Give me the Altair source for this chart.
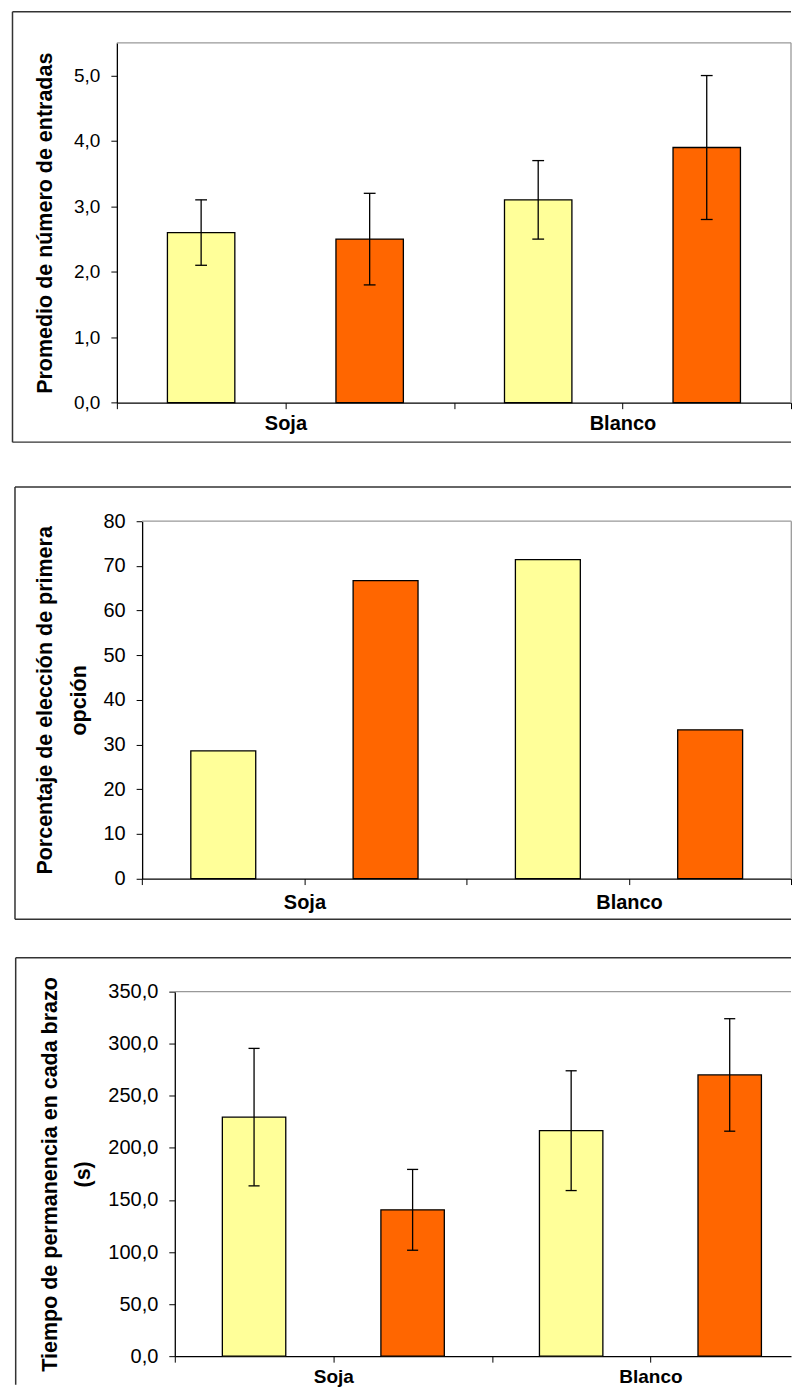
import altair as alt
import pandas as pd

# ---- data ----
groups = ["Soja", "Blanco"]
series = ["Serie 1", "Serie 2"]
colors = ["#FFFF99", "#FF6600"]

# order: Soja/Serie1, Soja/Serie2, Blanco/Serie1, Blanco/Serie2
entradas_mean = [2.6, 2.5, 3.1, 3.9]
entradas_err = [0.5, 0.7, 0.6, 1.1]

porcentaje = [28.6, 66.7, 71.4, 33.3]

tiempo_mean = [229.5, 140.5, 216.5, 270.0]
tiempo_err = [66.0, 38.8, 57.5, 54.0]

y1_ticks = [0, 1, 2, 3, 4, 5]
y2_ticks = [0, 10, 20, 30, 40, 50, 60, 70, 80]
y3_ticks = [0, 50, 100, 150, 200, 250, 300, 350]


def make_df(values, errs=None):
    rows = []
    k = 0
    for gi, g in enumerate(groups):
        for si, s in enumerate(series):
            rows.append({"group": g, "series": s, "g": gi, "s": si,
                         "value": values[k],
                         "err": (errs[k] if errs is not None else 0)})
            k += 1
    return pd.DataFrame(rows)


one = pd.DataFrame({"k": [0]})
LABEL_FONT = "Liberation Sans"
ORIGIN_X = 10.0          # absolute x of every panel's view origin
VIEW_W = 781.0           # view spans x 10 .. 791 (page must not overflow)

xlabel_expr = "datum.value == 1 ? '%s' : datum.value == 3 ? '%s' : ''" % (groups[0], groups[1])


def panel(df, ymax, yticks, yexpr, title, pw, h, plot_left, xmax, xticks,
          frame, inv_top, title_x, title_lh, ylab_size, xlab_size, xlab_pad,
          has_err, right_border=True):
    pl = plot_left - ORIGIN_X
    pr = pl + pw
    xscale = alt.Scale(domain=[0, xmax], range=[pl, pr], nice=False, zero=False)
    yscale = alt.Scale(domain=[0, ymax], nice=False, zero=True)
    xaxis = alt.Axis(values=xticks, labelExpr=xlabel_expr, title=None,
                     tickSize=6, tickColor="black", tickWidth=1,
                     domainColor="black", domainWidth=1.3,
                     labelPadding=xlab_pad, labelFont=LABEL_FONT,
                     labelFontSize=xlab_size, labelFontWeight="bold",
                     labelColor="black",
                     labelOverlap=False, labelFlush=False, grid=False)
    yaxis = alt.Axis(values=yticks, labelExpr=yexpr, title=title, offset=-pl,
                     tickSize=6, tickColor="black", tickWidth=1,
                     domainColor="black", domainWidth=1.3,
                     labelPadding=11, labelFont=LABEL_FONT,
                     labelFontSize=ylab_size, labelColor="black",
                     labelOverlap=False, labelFlush=False, grid=False,
                     titleFont=LABEL_FONT, titleFontSize=21.5,
                     titleFontWeight="bold", titleColor="black",
                     titleAngle=270, titleAlign="center", titleBaseline="middle",
                     titleX=title_x, titleY=h / 2, titleLineHeight=title_lh)

    base = alt.Chart(df).transform_calculate(
        pos="datum.g * 2 + datum.s + 0.5",
    ).transform_calculate(
        xl="datum.pos - 0.2", xr="datum.pos + 0.2",
        cl="datum.pos - 0.035", cr="datum.pos + 0.035",
        lo="datum.value - datum.err", hi="datum.value + datum.err",
    )

    fx, fy, fy2 = frame
    fx = fx - ORIGIN_X
    fstyle = dict(color="#333333", strokeWidth=1.5)
    gstyle = dict(color="#999999", strokeWidth=1.3)
    layers = [
        # invisible box fixing the panel's top extent
        alt.Chart(one).mark_rect(opacity=0).encode(
            x=alt.value(pl), y=alt.value(inv_top), x2=alt.value(pl + 1), y2=alt.value(0)),
        # outer chart frame (its right side lies beyond the page)
        alt.Chart(one).mark_rule(**fstyle).encode(
            x=alt.value(fx), x2=alt.value(VIEW_W), y=alt.value(fy)),
        alt.Chart(one).mark_rule(**fstyle).encode(
            x=alt.value(fx), y=alt.value(fy), y2=alt.value(fy2)),
        # plot area border (top / right)
        alt.Chart(one).mark_rule(**gstyle).encode(
            x=alt.value(pl), x2=alt.value(pr), y=alt.value(0)),
    ]
    if fy2 < h + 45 and right_border:
        layers.append(alt.Chart(one).mark_rule(**fstyle).encode(
            x=alt.value(fx), x2=alt.value(VIEW_W), y=alt.value(fy2)))
    if right_border:
        layers.append(alt.Chart(one).mark_rule(**gstyle).encode(
            x=alt.value(pr), y=alt.value(0), y2=alt.value(h)))

    bars = base.mark_rect(stroke="black", strokeWidth=1.3).encode(
        x=alt.X("xl:Q", scale=xscale, axis=xaxis),
        x2="xr:Q",
        y=alt.Y("value:Q", scale=yscale, axis=yaxis),
        y2=alt.datum(0),
        color=alt.Color("series:N", scale=alt.Scale(domain=series, range=colors),
                        legend=None),
    )
    layers.append(bars)
    if has_err:
        stem = base.mark_rule(color="black", strokeWidth=1.3).encode(
            x=alt.X("pos:Q", scale=xscale, axis=xaxis),
            y=alt.Y("lo:Q", scale=yscale, axis=yaxis), y2="hi:Q")
        cap_hi = base.mark_rule(color="black", strokeWidth=1.3).encode(
            x=alt.X("cl:Q", scale=xscale, axis=xaxis), x2="cr:Q",
            y=alt.Y("hi:Q", scale=yscale, axis=yaxis))
        cap_lo = base.mark_rule(color="black", strokeWidth=1.3).encode(
            x=alt.X("cl:Q", scale=xscale, axis=xaxis), x2="cr:Q",
            y=alt.Y("lo:Q", scale=yscale, axis=yaxis))
        layers += [stem, cap_hi, cap_lo]
    return alt.layer(*layers).properties(width=VIEW_W, height=h)


comma1 = "replace(format(datum.value, '.1f'), '.', ',')"
plain = "format(datum.value, 'd')"

p1 = panel(make_df(entradas_mean, entradas_err), 5.5, y1_ticks, comma1,
           "Promedio de número de entradas", 675.0, 360.3,
           plot_left=116.0, xmax=4, xticks=[0, 1, 2, 3, 4],
           frame=(11.5, -31.2, 399.8), inv_top=-32.7,
           title_x=-71.0, title_lh=27, ylab_size=19, xlab_size=20, xlab_pad=5,
           has_err=True)

p2 = panel(make_df(porcentaje), 80, y2_ticks, plain,
           ["Porcentaje de elección de primera", "opción"], 650.0, 357.8,
           plot_left=141.3, xmax=4, xticks=[0, 1, 2, 3, 4],
           frame=(14.0, -34.3, 398.5), inv_top=-40.7,
           title_x=-96.3, title_lh=33.7, ylab_size=20, xlab_size=20, xlab_pad=8,
           has_err=False)

p3_w = ORIGIN_X + VIEW_W - 174.0
p3 = panel(make_df(tiempo_mean, tiempo_err), 350, y3_ticks, comma1,
           ["Tiempo de permanencia en cada brazo", "(s)"], p3_w, 365.0,
           plot_left=174.0, xmax=round(p3_w / 158.75, 4), xticks=[0, 1, 2, 3],
           frame=(14.7, -33.8, 393.5), inv_top=-35.3,
           title_x=-124.0, title_lh=33, ylab_size=20, xlab_size=19, xlab_pad=5,
           has_err=True, right_border=False)

chart = alt.vconcat(p1, p2, p3, spacing=35).properties(
    padding={"left": 2, "top": 0, "right": 0, "bottom": 0}
).configure(background="white").configure_view(
    stroke="transparent"
)

chart.save("out.html", embed_options={"renderer": "svg", "actions": False})
